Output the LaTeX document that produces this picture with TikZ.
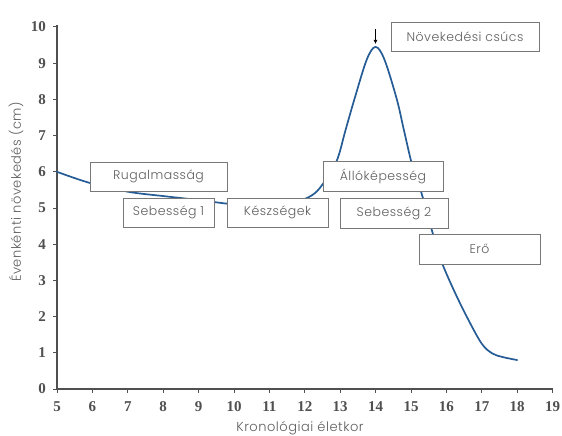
\documentclass[tikz,border=0pt]{standalone}
\usepackage{fontspec}
\setmainfont{Liberation Serif}
\newfontfamily\labelfont[LetterSpace=4, UprightFont=* Light]{Poppins}
\usetikzlibrary{arrows.meta}
\definecolor{axisgray}{RGB}{80,80,80}
\definecolor{boxgray}{RGB}{120,120,120}
\definecolor{textgray}{RGB}{95,95,95}
\definecolor{curveblue}{RGB}{38,92,150}
\tikzset{
  phasebox/.style={draw=boxgray, line width=0.8pt, fill=white, inner sep=0pt,
    text=textgray, font=\labelfont\fontsize{12.5}{14}\selectfont},
  ticklabel/.style={text=axisgray, font=\bfseries\fontsize{15}{17}\selectfont, inner sep=0pt},
  axislabel/.style={text=textgray, font=\labelfont\fontsize{13}{15}\selectfont, inner sep=0pt},
  axisline/.style={draw=axisgray, line width=1.3pt},
  growth/.style={draw=curveblue, line width=1.7pt, line join=round, line cap=round}
}
\begin{document}
\begin{tikzpicture}[x=1pt, y=-1pt]
  \useasboundingbox (0,0) rectangle (562,436);
  \fill[white] (0,0) rectangle (562,436);

  % axes
  \coordinate (origin) at (57,389);
  \coordinate (ytop) at (57,25);
  \coordinate (xend) at (553,389);
  \draw[axisline] (ytop) -- (origin) -- (xend);

  % y ticks and labels
  \foreach \v in {0,...,10} {
    \draw[axisgray, line width=1pt] (53,{389-36.2*\v}) -- (57,{389-36.2*\v});
    \node[ticklabel, anchor=east] (yl\v) at (46,{389-36.2*\v}) {\v};
  }
  % x ticks and labels
  \foreach \a in {5,...,19} {
    \draw[axisgray, line width=1pt] ({57+35.4*(\a-5)},389) -- ({57+35.4*(\a-5)},393);
    \node[ticklabel] (xl\a) at ({57+35.4*(\a-5)},407) {\a};
  }

  % axis titles
  \node[axislabel] (xtitle) at (300,428) {Kronológiai életkor};
  \node[axislabel, rotate=90] (ytitle) at (16,192) {Évenkénti növekedés (cm)};

  % yearly growth curve (age, cm)
  \begin{scope}[shift={(-120,389)}, x=35.4pt, y=36.2pt]
    \draw[growth] plot[smooth, tension=0.55] coordinates {
      (5,6.0) (5.9,5.7) (7,5.45) (8,5.33) (9,5.22) (10,5.1) (11,5.05)
      (11.7,5.15) (12.2,5.35) (12.5,5.65) (12.9,6.3) (13.15,7.15)
      (13.4,8.0) (13.75,9.1) (14,9.45) (14.25,9.1) (14.6,8.0) (14.8,7.15)
      (15.03,6.2) (15.3,5.4) (15.6,4.35) (15.85,3.55) (16.2,2.75)
      (16.6,1.95) (17.0,1.25) (17.3,0.98) (17.6,0.88) (18,0.8)};
  \end{scope}

  % peak marker
  \coordinate (arrowtop) at (375.5,29);
  \coordinate (peak) at (375.5,44);
  \draw[black, line width=1.4pt, -{Latex[length=4pt,width=4pt]}] (arrowtop) -- (peak);

  % phase boxes
  \node[phasebox, minimum width=137pt, minimum height=29pt] (rug) at (158.5,176.5) {Rugalmasság};
  \node[phasebox, minimum width=91pt, minimum height=29pt] (seb1) at (168.5,212.5) {Sebesség 1};
  \node[phasebox, minimum width=101pt, minimum height=29pt] (kesz) at (277.5,212.5) {Készségek};
  \node[phasebox, minimum width=120pt, minimum height=30pt] (allo) at (383,176) {Állóképesség};
  \node[phasebox, minimum width=108pt, minimum height=30pt] (seb2) at (394,213) {Sebesség 2};
  \node[phasebox, minimum width=121pt, minimum height=30pt] (ero) at (479.5,249) {Erő};
  \node[phasebox, minimum width=148pt, minimum height=29pt] (csucs) at (465,36.5) {Növekedési csúcs};
\end{tikzpicture}
\end{document}
